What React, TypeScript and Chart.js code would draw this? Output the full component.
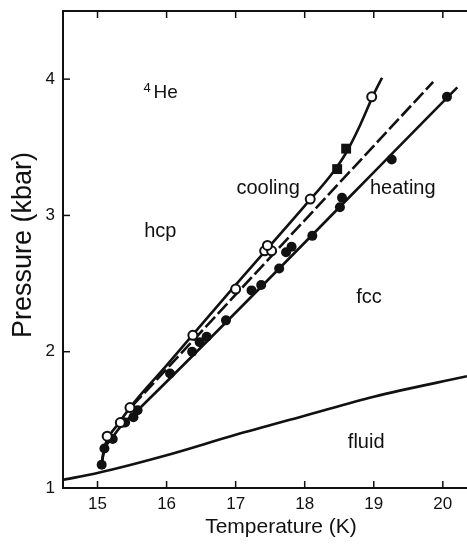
import React, { useEffect, useRef } from "react";
import { Chart, registerables } from "chart.js";

Chart.register(...registerables);

// ---- data ----
const xTicks = [15, 16, 17, 18, 19, 20];
const yTicks = [1, 2, 3, 4];

const coolingT = [15.14, 15.33, 15.47, 16.38, 17.0, 17.42, 17.52, 17.46, 18.08, 18.97];
const coolingP = [1.38, 1.48, 1.59, 2.12, 2.46, 2.74, 2.74, 2.78, 3.12, 3.87];

const squareT = [18.47, 18.6];
const squareP = [3.34, 3.49];

const heatingT = [15.06, 15.1, 15.22, 15.37, 15.4, 15.52, 15.58, 16.05, 16.37, 16.48, 16.58, 16.86, 17.23, 17.37, 17.63, 17.73, 17.81, 18.11, 18.51, 18.54, 19.26, 20.06];
const heatingP = [1.17, 1.29, 1.36, 1.48, 1.48, 1.52, 1.57, 1.84, 2.0, 2.07, 2.11, 2.23, 2.45, 2.49, 2.61, 2.73, 2.77, 2.85, 3.06, 3.13, 3.41, 3.87];

const coolCurveT = [15.05, 15.1, 15.18, 15.3, 15.47, 16.0, 17.0, 18.0, 18.4, 18.6, 18.8, 19.0, 19.12];
const coolCurveP = [1.15, 1.3, 1.39, 1.47, 1.59, 1.9, 2.49, 3.07, 3.31, 3.46, 3.66, 3.89, 4.01];

const heatCurveT = [15.05, 15.1, 15.2, 15.35, 15.6, 20.21];
const heatCurveP = [1.15, 1.28, 1.36, 1.46, 1.58, 3.94];

const dashT = [15.5, 19.86];
const dashP = [1.6, 3.98];

const fluidT = [14.5, 15, 16, 17, 18, 19, 20.35];
const fluidP = [1.06, 1.11, 1.24, 1.39, 1.53, 1.67, 1.82];

const labels = [
  { text: "hcp", x: 15.91, y: 2.84 },
  { text: "cooling", x: 17.47, y: 3.16 },
  { text: "heating", x: 19.42, y: 3.16 },
  { text: "fcc", x: 18.93, y: 2.355 },
  { text: "fluid", x: 18.89, y: 1.29 },
];

const zip = (a: number[], b: number[]) => a.map((v, i) => ({ x: v, y: b[i] }));

const FONT = '"Liberation Sans", Arial, Helvetica, sans-serif';
const INK = "#111";

const decor = {
  id: "decor",
  afterDraw(chart: any) {
    const { ctx, scales, chartArea } = chart;
    const xs = scales.x;
    const ys = scales.y;
    ctx.save();
    ctx.strokeStyle = INK;
    ctx.lineWidth = 1.5;
    // inside ticks
    const tl = 7;
    xTicks.forEach((t) => {
      const px = xs.getPixelForValue(t);
      ctx.beginPath();
      ctx.moveTo(px, chartArea.bottom);
      ctx.lineTo(px, chartArea.bottom - tl);
      ctx.moveTo(px, chartArea.top);
      ctx.lineTo(px, chartArea.top + tl);
      ctx.stroke();
    });
    yTicks.forEach((t) => {
      const py = ys.getPixelForValue(t);
      ctx.beginPath();
      ctx.moveTo(chartArea.left, py);
      ctx.lineTo(chartArea.left + tl, py);
      ctx.stroke();
    });
    // annotations
    ctx.fillStyle = INK;
    ctx.textAlign = "center";
    ctx.textBaseline = "alphabetic";
    ctx.font = `20px ${FONT}`;
    labels.forEach((l) => {
      ctx.fillText(l.text, xs.getPixelForValue(l.x), ys.getPixelForValue(l.y));
    });
    // 4He
    const hx = xs.getPixelForValue(15.81);
    const hy = ys.getPixelForValue(3.86);
    ctx.textAlign = "left";
    ctx.font = `13px ${FONT}`;
    ctx.fillText("4", hx - 10, hy - 6);
    ctx.font = `19px ${FONT}`;
    ctx.fillText("He", hx, hy);
    // axis titles
    ctx.textAlign = "center";
    ctx.textBaseline = "middle";
    ctx.font = `21px ${FONT}`;
    ctx.fillText("Temperature (K)", 281, 527);
    ctx.save();
    ctx.translate(24, 245);
    ctx.rotate(-Math.PI / 2);
    ctx.font = `27px ${FONT}`;
    ctx.fillText("Pressure (kbar)", 0, 0);
    ctx.restore();
    ctx.restore();
  },
};

export default function App() {
  const ref = useRef<HTMLCanvasElement>(null);
  useEffect(() => {
    if (!ref.current) return;
    const lineDs = (t: number[], p: number[], dash: number[] = []) => ({
      data: zip(t, p),
      showLine: true,
      borderColor: INK,
      borderWidth: 2.6,
      borderDash: dash,
      pointRadius: 0,
      cubicInterpolationMode: "monotone" as const,
      tension: 0.4,
    });
    const fixX = (h: number) => (s: any) => {
      s.height = h;
      s.paddingLeft = 0;
      s.paddingRight = 0;
    };
    const chart = new Chart(ref.current, {
      type: "scatter",
      data: {
        datasets: [
          {
            data: zip(coolingT, coolingP),
            pointRadius: 4.5,
            pointBorderWidth: 2,
            pointBackgroundColor: "#fff",
            pointBorderColor: INK,
          },
          {
            data: zip(squareT, squareP),
            pointStyle: "rect",
            pointRadius: 7,
            pointBorderWidth: 0,
            pointBackgroundColor: INK,
            pointBorderColor: INK,
          },
          {
            data: zip(heatingT, heatingP),
            pointRadius: 5,
            pointBorderWidth: 0,
            pointBackgroundColor: INK,
            pointBorderColor: INK,
          },
          lineDs(coolCurveT, coolCurveP),
          lineDs(heatCurveT, heatCurveP),
          lineDs(dashT, dashP, [14, 4]),
          lineDs(fluidT, fluidP),
        ] as any,
      },
      options: {
        animation: false,
        responsive: true,
        maintainAspectRatio: false,
        layout: { padding: 0, autoPadding: false },
        plugins: { legend: { display: false }, tooltip: { enabled: false } },
        scales: {
          x: {
            type: "linear",
            position: "bottom",
            min: 14.5,
            max: 20.35,
            afterFit: fixX(58),
            afterBuildTicks: (s: any) => { s.ticks = xTicks.map((v) => ({ value: v })); },
            grid: { display: false, drawTicks: false },
            border: { display: true, color: INK, width: 2 },
            ticks: { color: INK, font: { size: 17, family: FONT }, padding: 6 },
          },
          x2: {
            type: "linear",
            position: "top",
            min: 14.5,
            max: 20.35,
            afterFit: fixX(11),
            afterBuildTicks: (s: any) => { s.ticks = xTicks.map((v) => ({ value: v })); },
            grid: { display: false, drawTicks: false },
            border: { display: true, color: INK, width: 2 },
            ticks: { display: false },
          },
          y: {
            type: "linear",
            min: 1,
            max: 4.5,
            afterFit: (s: any) => { s.width = 63; s.paddingTop = 0; s.paddingBottom = 0; },
            afterBuildTicks: (s: any) => { s.ticks = yTicks.map((v) => ({ value: v })); },
            grid: { display: false, drawTicks: false },
            border: { display: true, color: INK, width: 2 },
            ticks: { color: INK, font: { size: 17, family: FONT }, padding: 8 },
          },
        },
      } as any,
      plugins: [decor],
    });
    return () => chart.destroy();
  }, []);
  return (
    <div style={{ position: "absolute", left: 0, top: 0, width: 467, height: 546, background: "#fff" }}>
      <canvas ref={ref} />
    </div>
  );
}
